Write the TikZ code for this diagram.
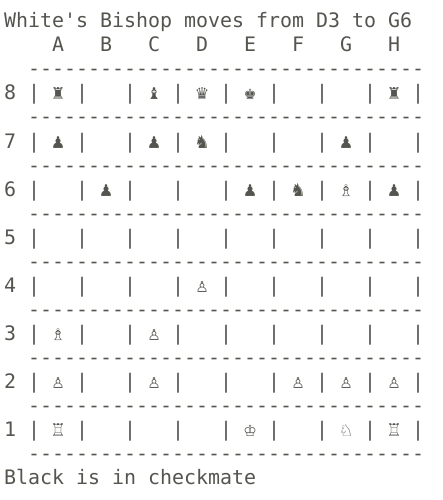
\documentclass[tikz,border=0pt]{standalone}
\usepackage{fontspec}
\setmonofont{DejaVu Sans Mono}
\usepackage{xcolor}
\usepackage{tikz}
\usetikzlibrary{positioning,calc}
\definecolor{termgray}{HTML}{555550}
\tikzset{
	termline/.style={anchor=base west,inner sep=0pt,outer sep=0pt,text=termgray,font=\ttfamily\fontsize{19.93}{24}\selectfont},
}
\begin{document}
\begin{tikzpicture}[x=1pt,y=1pt]
		\useasboundingbox[fill=white] (0,0) rectangle (442,-500);
		\node[termline] (title) at (4.2,-28) {White's~Bishop~moves~from~D3~to~G6};
		\node[termline] (files) at (4.2,-52) {~~~~A~~~B~~~C~~~D~~~E~~~F~~~G~~~H};
		% rules between the ranks
		\foreach \r in {0,...,8}
			\node[termline] (rule\r) at (4.2,-76-48*\r) {~~---------------------------------};
		\node[termline] (rank8) at (4.2,-100) {8~|~♜~|~~~|~♝~|~♛~|~♚~|~~~|~~~|~♜~|};
		\node[termline] (rank7) at (4.2,-148) {7~|~♟~|~~~|~♟~|~♞~|~~~|~~~|~♟~|~~~|};
		\node[termline] (rank6) at (4.2,-196) {6~|~~~|~♟~|~~~|~~~|~♟~|~♞~|~♗~|~♟~|};
		\node[termline] (rank5) at (4.2,-244) {5~|~~~|~~~|~~~|~~~|~~~|~~~|~~~|~~~|};
		\node[termline] (rank4) at (4.2,-292) {4~|~~~|~~~|~~~|~♙~|~~~|~~~|~~~|~~~|};
		\node[termline] (rank3) at (4.2,-340) {3~|~♗~|~~~|~♙~|~~~|~~~|~~~|~~~|~~~|};
		\node[termline] (rank2) at (4.2,-388) {2~|~♙~|~~~|~♙~|~~~|~~~|~♙~|~♙~|~♙~|};
		\node[termline] (rank1) at (4.2,-436) {1~|~♖~|~~~|~~~|~~~|~♔~|~~~|~♘~|~♖~|};
		\node[termline] (result) at (4.2,-484) {Black~is~in~checkmate};
	\end{tikzpicture}
\end{document}
